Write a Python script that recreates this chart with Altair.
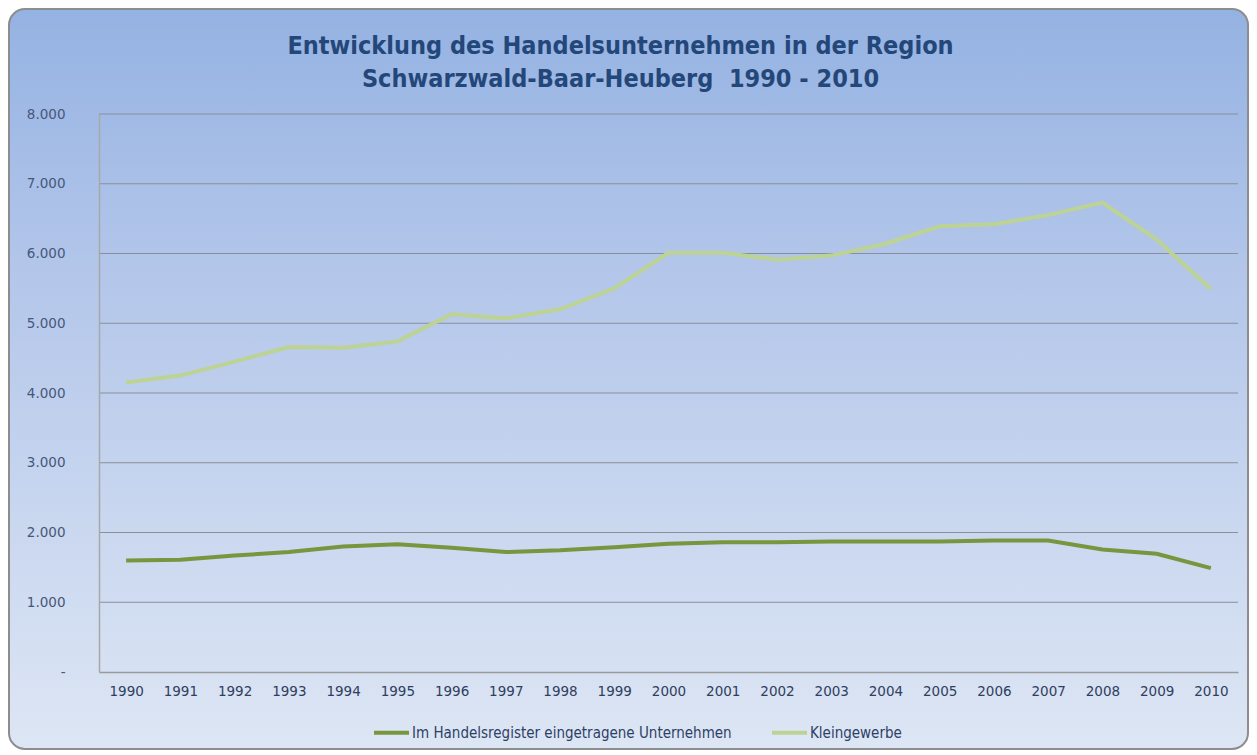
import altair as alt
import pandas as pd

years = [str(y) for y in range(1990, 2011)]
handelsregister = [1600, 1610, 1670, 1720, 1800, 1830, 1780, 1720, 1745, 1790, 1840,
                   1860, 1860, 1870, 1870, 1870, 1885, 1885, 1755, 1695, 1490]
kleingewerbe = [4150, 4250, 4450, 4660, 4650, 4740, 5130, 5070, 5200, 5500, 6010,
                6010, 5910, 5970, 6140, 6390, 6420, 6550, 6730, 6200, 5490]
series_names = ["Im Handelsregister eingetragene Unternehmen", "Kleingewerbe"]
series_colors = ["#77963d", "#bcd394"]
y_ticks = [0, 1000, 2000, 3000, 4000, 5000, 6000, 7000, 8000]

df = pd.DataFrame({
    "Jahr": years * 2,
    "Wert": handelsregister + kleingewerbe,
    "Serie": [series_names[0]] * len(years) + [series_names[1]] * len(years),
})
grid_df = pd.DataFrame({"Wert": y_ticks[1:]})

W, H = 1139, 558
PL, PT, PR, PB = 91, 106, 11, 78

narrow = "Liberation Sans Narrow, DejaVu Sans Condensed, sans-serif"

y_axis = alt.Axis(title=None, values=y_ticks, ticks=False, grid=False,
                  domain=True, domainColor="#a8a8a8", domainWidth=1.5,
                  labelFont="DejaVu Sans", labelFontSize=13.5,
                  labelColor="#46577a", labelPadding=34, zindex=1,
                  labelExpr="datum.value == 0 ? '-' : replace(format(datum.value, ',.0f'), ',', '.')")
y_scale = alt.Scale(domain=[0, 8000])

bg = alt.Chart(pd.DataFrame({"a": [0]})).mark_rect(
    color=alt.Gradient(
        gradient="linear", x1=0, y1=0, x2=0, y2=1,
        stops=[alt.GradientStop(offset=0, color="#94b2e2"),
               alt.GradientStop(offset=0.35, color="#b3c6ea"),
               alt.GradientStop(offset=1, color="#dde6f4")],
    ),
    cornerRadius=16, stroke="#8d8d8d", strokeWidth=2,
).encode(x=alt.value(-PL + 1), x2=alt.value(W + PR - 1),
         y=alt.value(-PT + 1), y2=alt.value(H + PB - 1))

grid = alt.Chart(grid_df).mark_rule(color="#8a8f99", strokeWidth=1).encode(
    y=alt.Y("Wert:Q", scale=y_scale, axis=y_axis)
)

lines = alt.Chart(df).mark_line(strokeWidth=4).encode(
    x=alt.X("Jahr:O", sort=years,
            scale=alt.Scale(type="point", padding=0.5),
            axis=alt.Axis(title=None, labelAngle=0, ticks=False, domain=True,
                          domainColor="#9a9a9a", domainWidth=1.5,
                          labelFont="DejaVu Sans", labelFontSize=13.5, labelColor="#2f3e5e",
                          labelPadding=12, zindex=1, grid=False)),
    y=alt.Y("Wert:Q", scale=y_scale, axis=y_axis),
    color=alt.Color("Serie:N", scale=alt.Scale(domain=series_names, range=series_colors),
                    legend=alt.Legend(title=None, orient="none", legendX=273, legendY=599,
                                      direction="horizontal", symbolType="stroke",
                                      symbolSize=1225, symbolStrokeWidth=4,
                                      labelFont=narrow, labelFontSize=15, labelLimit=0,
                                      labelColor="#2e3f66", labelOffset=1,
                                      columnPadding=32, zindex=1)),
)

chart = alt.layer(bg, grid, lines).properties(
    width=W, height=H,
    padding={"left": PL, "top": PT, "right": PR, "bottom": PB},
    autosize=alt.AutoSizeParams(type="none"),
    title=alt.Title(
        ["Entwicklung des Handelsunternehmen in der Region",
         "Schwarzwald-Baar-Heuberg\u00a0 1990 - 2010"],
        font=narrow, fontSize=25, fontWeight="bold", color="#24477a",
        anchor="middle", dx=-48, offset=-84, lineHeight=33, zindex=1,
    ),
).configure_view(stroke=None).configure(background="white")

chart.save("out.html", embed_options={"renderer": "svg", "actions": False})
